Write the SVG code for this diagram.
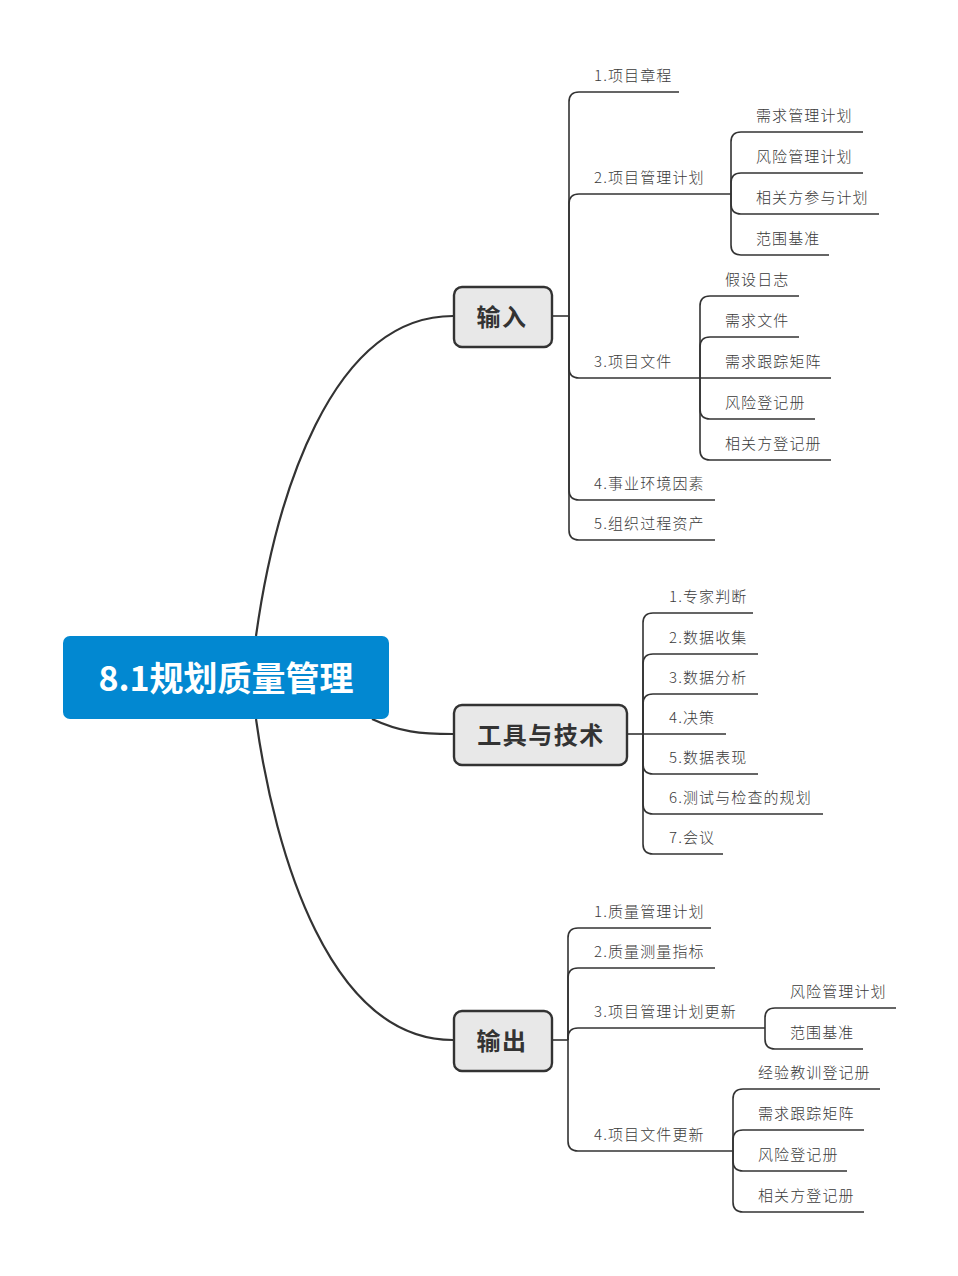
<svg xmlns="http://www.w3.org/2000/svg" width="958" height="1276" viewBox="0 0 958 1276">
<style>
.bg{fill:#ffffff}
.main{fill:none;stroke:#333333;stroke-width:2.2}
.br{fill:none;stroke:#333333;stroke-width:1.6}
.root rect{fill:#0288d1}
.root text{fill:#ffffff;font-family:"Noto Sans CJK SC","Noto Sans",sans-serif;font-weight:700;font-size:34px;text-anchor:middle}
.topic rect{fill:#e8e8e8;stroke:#333333;stroke-width:2.4}
.topic text{fill:#333333;font-family:"Noto Sans CJK SC","Noto Sans",sans-serif;font-weight:700;font-size:24px;letter-spacing:1.5px;text-anchor:middle}
.leaf text{fill:#3a3a3a;font-family:"Noto Sans CJK SC","Noto Sans",sans-serif;font-weight:300;font-size:15px;letter-spacing:1.1px}
</style>
<rect class="bg" x="0" y="0" width="958" height="1276"/>
<g id="connectors">
<path class="main" d="M256,636 C275,500 330,316 453,316"/>
<path class="main" d="M256,719 C275,855 330,1040 453,1040"/>
<path class="main" d="M372,719 C400,732 420,734 453,734"/>
<path class="br" d="M552,316 H569"/>
<path class="br" d="M569,316 V102 Q569,92 579,92 H679"/>
<path class="br" d="M569,316 V204 Q569,194 579,194 H731"/>
<path class="br" d="M569,316 V368 Q569,378 579,378 H700"/>
<path class="br" d="M569,316 V490 Q569,500 579,500 H715"/>
<path class="br" d="M569,316 V530 Q569,540 579,540 H715"/>
<path class="br" d="M731,194 V142 Q731,132 741,132 H863"/>
<path class="br" d="M731,194 V183 Q731,173 741,173 H863"/>
<path class="br" d="M731,194 V204 Q731,214 741,214 H879"/>
<path class="br" d="M731,194 V245 Q731,255 741,255 H829"/>
<path class="br" d="M700,378 V306 Q700,296 710,296 H799"/>
<path class="br" d="M700,378 V347 Q700,337 710,337 H799"/>
<path class="br" d="M700,378 H831"/>
<path class="br" d="M700,378 V409 Q700,419 710,419 H815"/>
<path class="br" d="M700,378 V450 Q700,460 710,460 H831"/>
<path class="br" d="M627,734 H643"/>
<path class="br" d="M643,734 V623 Q643,613 653,613 H753"/>
<path class="br" d="M643,734 V664 Q643,654 653,654 H758"/>
<path class="br" d="M643,734 V704 Q643,694 653,694 H758"/>
<path class="br" d="M643,734 H726"/>
<path class="br" d="M643,734 V764 Q643,774 653,774 H758"/>
<path class="br" d="M643,734 V804 Q643,814 653,814 H823"/>
<path class="br" d="M643,734 V844 Q643,854 653,854 H723"/>
<path class="br" d="M552,1040 H568"/>
<path class="br" d="M568,1040 V938 Q568,928 578,928 H711"/>
<path class="br" d="M568,1040 V978 Q568,968 578,968 H715"/>
<path class="br" d="M568,1040 V1038 Q568,1028 578,1028 H765"/>
<path class="br" d="M568,1040 V1141 Q568,1151 578,1151 H733"/>
<path class="br" d="M765,1028 V1018 Q765,1008 775,1008 H896"/>
<path class="br" d="M765,1028 V1039 Q765,1049 775,1049 H863"/>
<path class="br" d="M733,1151 V1099 Q733,1089 743,1089 H880"/>
<path class="br" d="M733,1151 V1140 Q733,1130 743,1130 H864"/>
<path class="br" d="M733,1151 V1161 Q733,1171 743,1171 H847"/>
<path class="br" d="M733,1151 V1202 Q733,1212 743,1212 H864"/>
</g>
<g id="root" class="root"><rect x="63" y="636" width="326" height="83" rx="7"/><text x="226" y="691">8.1规划质量管理</text></g>
<g id="input" class="topic"><rect x="454" y="287" width="98" height="60" rx="8"/><text x="502" y="326">输入</text></g>
<g id="tools" class="topic"><rect x="454" y="705" width="173" height="60" rx="8"/><text x="541" y="744">工具与技术</text></g>
<g id="output" class="topic"><rect x="454" y="1011" width="98" height="60" rx="8"/><text x="502" y="1050">输出</text></g>
<g class="leaf">
<g id="in1"><text x="594" y="81">1.项目章程</text></g>
<g id="in2"><text x="594" y="183">2.项目管理计划</text></g>
<g id="in2a"><text x="756" y="121">需求管理计划</text></g>
<g id="in2b"><text x="756" y="162">风险管理计划</text></g>
<g id="in2c"><text x="756" y="203">相关方参与计划</text></g>
<g id="in2d"><text x="756" y="244">范围基准</text></g>
<g id="in3"><text x="594" y="367">3.项目文件</text></g>
<g id="in3a"><text x="725" y="285">假设日志</text></g>
<g id="in3b"><text x="725" y="326">需求文件</text></g>
<g id="in3c"><text x="725" y="367">需求跟踪矩阵</text></g>
<g id="in3d"><text x="725" y="408">风险登记册</text></g>
<g id="in3e"><text x="725" y="449">相关方登记册</text></g>
<g id="in4"><text x="594" y="489">4.事业环境因素</text></g>
<g id="in5"><text x="594" y="529">5.组织过程资产</text></g>
<g id="t1"><text x="669" y="602">1.专家判断</text></g>
<g id="t2"><text x="669" y="643">2.数据收集</text></g>
<g id="t3"><text x="669" y="683">3.数据分析</text></g>
<g id="t4"><text x="669" y="723">4.决策</text></g>
<g id="t5"><text x="669" y="763">5.数据表现</text></g>
<g id="t6"><text x="669" y="803">6.测试与检查的规划</text></g>
<g id="t7"><text x="669" y="843">7.会议</text></g>
<g id="o1"><text x="594" y="917">1.质量管理计划</text></g>
<g id="o2"><text x="594" y="957">2.质量测量指标</text></g>
<g id="o3"><text x="594" y="1017">3.项目管理计划更新</text></g>
<g id="o3a"><text x="790" y="997">风险管理计划</text></g>
<g id="o3b"><text x="790" y="1038">范围基准</text></g>
<g id="o4"><text x="594" y="1140">4.项目文件更新</text></g>
<g id="o4a"><text x="758" y="1078">经验教训登记册</text></g>
<g id="o4b"><text x="758" y="1119">需求跟踪矩阵</text></g>
<g id="o4c"><text x="758" y="1160">风险登记册</text></g>
<g id="o4d"><text x="758" y="1201">相关方登记册</text></g>
</g>
</svg>
